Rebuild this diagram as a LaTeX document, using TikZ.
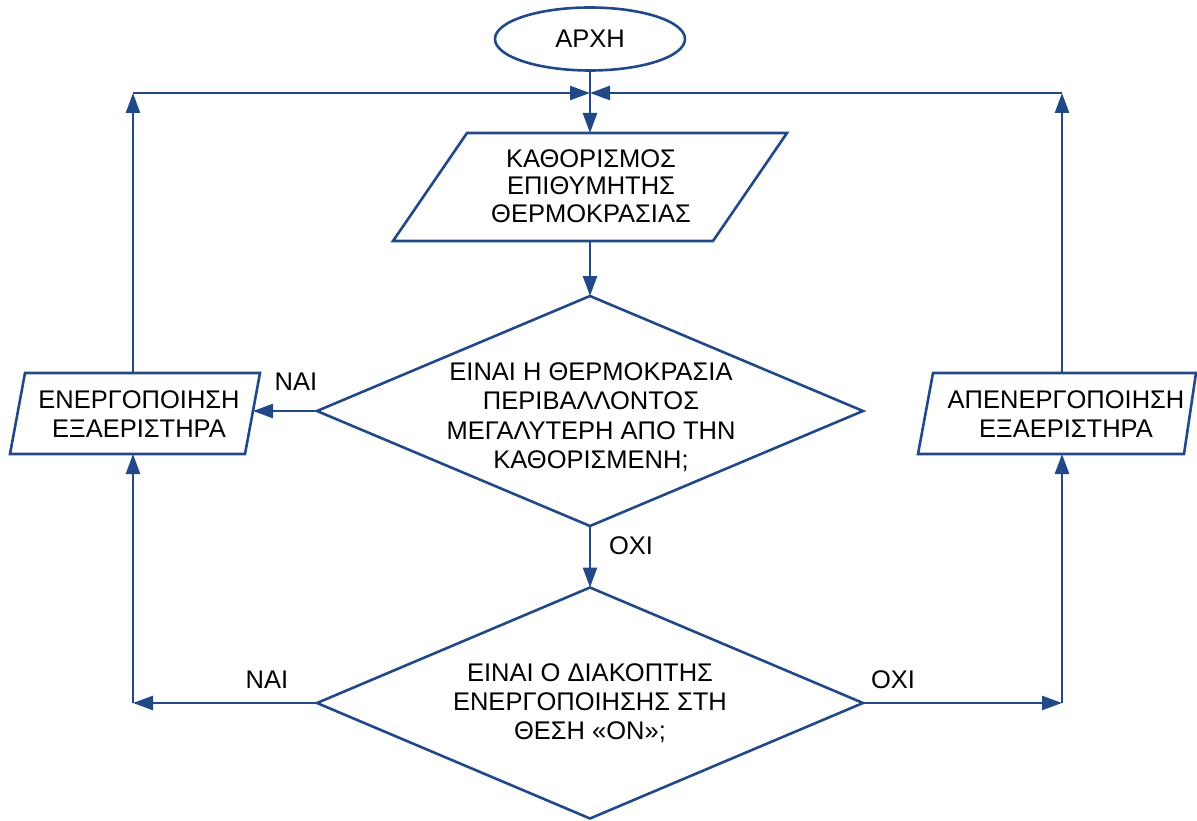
\documentclass[tikz,border=0pt]{standalone}
\usepackage{fontspec}
\setmainfont{Liberation Sans}
\usetikzlibrary{arrows.meta,shapes.geometric}
\definecolor{fc}{RGB}{33,72,135}
\begin{document}
\begin{tikzpicture}[x=1pt,y=-1pt,
  line/.style={draw=fc,line width=2.6pt},
  arr/.style={line,-{Triangle[length=20pt,width=14pt]}},
  box/.style={inner sep=0pt,outer sep=0pt},
  txt/.style={align=center,font=\fontsize{25.5}{29}\selectfont,inner sep=0pt},
]
\useasboundingbox (0,0) rectangle (1197,821);
% shapes
\node[ellipse,line,minimum width=190pt,minimum height=63pt,inner sep=0pt,font=\fontsize{25.5}{29}\selectfont] (start) at (590,39) {ΑΡΧΗ};

\node[box,minimum width=394pt,minimum height=108pt] (p1) at (590,187) {};
\draw[line] ([xshift=74pt]p1.north west) -- (p1.north east) -- ([xshift=-74pt]p1.south east) -- (p1.south west) -- cycle;
\node[txt,font=\fontsize{25.5}{27.5}\selectfont] (p1t) at (591,186) {ΚΑΘΟΡΙΣΜΟΣ\\ΕΠΙΘΥΜΗΤΗΣ\\ΘΕΡΜΟΚΡΑΣΙΑΣ};

\node[box,minimum width=250pt,minimum height=81pt] (p2) at (135,413.5) {};
\draw[line] ([xshift=15pt]p2.north west) -- (p2.north east) -- ([xshift=-15pt]p2.south east) -- (p2.south west) -- cycle;
\node[txt] (p2t) at (139,414) {ΕΝΕΡΓΟΠΟΙΗΣΗ\\ΕΞΑΕΡΙΣΤΗΡΑ};

\node[box,minimum width=278pt,minimum height=81pt] (p3) at (1057,413.5) {};
\draw[line] ([xshift=15pt]p3.north west) -- (p3.north east) -- ([xshift=-12pt]p3.south east) -- (p3.south west) -- cycle;
\node[txt] (p3t) at (1066,414) {ΑΠΕΝΕΡΓΟΠΟΙΗΣΗ\\ΕΞΑΕΡΙΣΤΗΡΑ};

\node[box,minimum width=546pt,minimum height=230pt] (d1) at (590,411) {};
\draw[line] (d1.north) -- (d1.east) -- (d1.south) -- (d1.west) -- cycle;
\node[txt,font=\fontsize{25.5}{29.5}\selectfont] (d1t) at (591,417) {ΕΙΝΑΙ Η ΘΕΡΜΟΚΡΑΣΙΑ\\ΠΕΡΙΒΑΛΛΟΝΤΟΣ\\ΜΕΓΑΛΥΤΕΡΗ ΑΠΟ ΤΗΝ\\ΚΑΘΟΡΙΣΜΕΝΗ;};

\node[box,minimum width=546pt,minimum height=231pt] (d2) at (590,703) {};
\draw[line] (d2.north) -- (d2.east) -- (d2.south) -- (d2.west) -- cycle;
\node[txt] (d2t) at (590,703) {ΕΙΝΑΙ Ο ΔΙΑΚΟΠΤΗΣ\\ΕΝΕΡΓΟΠΟΙΗΣΗΣ ΣΤΗ\\ΘΕΣΗ «ΟΝ»;};

% labels
\node[txt] (l1) at (296,382) {ΝΑΙ};
\node[txt] (l2) at (631,546) {ΟΧΙ};
\node[txt] (l3) at (267,680) {ΝΑΙ};
\node[txt] (l4) at (893,680) {ΟΧΙ};

% junctions
\coordinate (m) at (590,93);
\coordinate (tl) at (133,93);
\coordinate (tr) at (1062,93);
\coordinate (bl) at (133,703);
\coordinate (br) at (1062,703);

% connectors
\draw[arr] (start.south) -- (p1.north);
\draw[arr] (p1.south) -- (d1.north);
\draw[arr] (d1.south) -- (d2.north);
\draw[arr] (d1.west) -- ([xshift=-7pt]d1.west -| p2.east);
\draw[arr] (tl |- p2.north) -- (tl);
\draw[arr] (tl) -- (m);
\draw[arr] (tr |- p3.north) -- (tr);
\draw[arr] (tr) -- (m);
\draw[arr] (d2.west) -- (bl);
\draw[arr] (bl) -- (bl |- p2.south);
\draw[arr] (d2.east) -- (br);
\draw[arr] (br) -- (br |- p3.south);
\end{tikzpicture}
\end{document}
